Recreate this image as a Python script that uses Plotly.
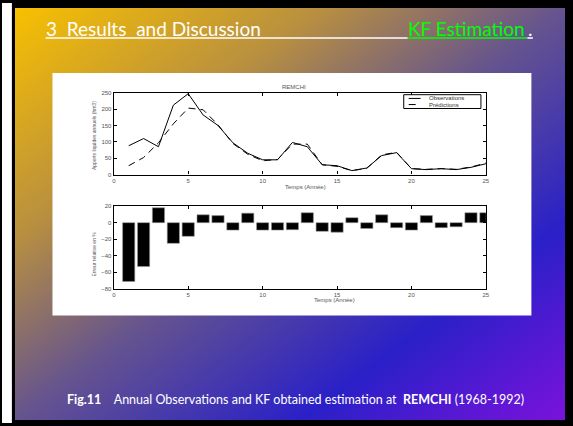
import base64
import plotly.graph_objects as go

W, H = 573, 426

years = list(range(1, 26))
observations = [88, 110, 85, 212, 247, 182, 150, 97, 65, 45, 45, 98, 85, 30, 27, 12, 20, 58, 67, 18, 15, 18, 15, 22, 33]
predictions = [27, 52, 97, 155, 203, 198, 152, 95, 62, 42, 46, 93, 93, 30, 25, 12, 19, 60, 68, 18, 16, 18, 16, 23, 35]
rel_error = [-71, -53, 18, -25, -16.5, 9.5, 8.5, -9, 11.5, -9, -9, -8.5, 12, -10.5, -11.5, 6, -7, 9.5, -6, -9, 8.5, -6, -5, 12, 12]

x_ticks = [0, 5, 10, 15, 20, 25]
y_ticks_top = [0, 50, 100, 150, 200, 250]
y_ticks_bot = [-80, -60, -40, -20, 0, 20]


def px(x):
    return x / W


def py(y):
    return 1 - y / H


fig = go.Figure()
fig.add_trace(go.Scatter(x=years, y=observations, mode="lines", name="Observations",
                         line=dict(color="black", width=1), xaxis="x", yaxis="y", showlegend=False))
fig.add_trace(go.Scatter(x=years, y=predictions, mode="lines", name="Prédictions",
                         line=dict(color="black", width=1, dash="7px,5px"), xaxis="x", yaxis="y", showlegend=False))
fig.add_trace(go.Bar(x=years, y=rel_error, width=0.82, marker=dict(color="black", line=dict(color="#999", width=0.6)),
                     xaxis="x2", yaxis="y2", showlegend=False))

tickfont = dict(family="Liberation Sans", size=6, color="#555")
axis_common = dict(showline=True, linecolor="black", linewidth=1.4, mirror="ticks", ticks="inside",
                   ticklen=3, tickcolor="black", tickwidth=1, showgrid=False, zeroline=False,
                   tickfont=tickfont)

fig.update_layout(
    width=W, height=H, margin=dict(l=0, r=0, t=0, b=0),
    paper_bgcolor="black", plot_bgcolor="white",
    xaxis=dict(domain=[px(113), px(489)], range=[0, 25], tickvals=x_ticks, anchor="y", **axis_common),
    yaxis=dict(domain=[py(174), py(91)], range=[0, 250], tickvals=y_ticks_top, anchor="x", **axis_common),
    xaxis2=dict(domain=[px(113), px(489)], range=[0, 25], tickvals=x_ticks, anchor="y2", **axis_common),
    yaxis2=dict(domain=[py(290), py(206)], range=[-80, 20], tickvals=y_ticks_bot, anchor="x2", **axis_common),
)

svg = (
    '<svg xmlns="http://www.w3.org/2000/svg" width="556" height="418" viewBox="0 0 556 418" preserveAspectRatio="none">'
    '<defs><linearGradient id="g" x1="0" y1="0" x2="1" y2="1">'
    '<stop offset="0" stop-color="#f8c000"/>'
    '<stop offset="0.28" stop-color="#b88f40"/>'
    '<stop offset="0.5" stop-color="#65548e"/>'
    '<stop offset="0.76" stop-color="#2a20c8"/>'
    '<stop offset="1" stop-color="#7a12dc"/>'
    '</linearGradient></defs>'
    '<rect x="0" y="0" width="556" height="418" fill="url(#g)"/></svg>'
)
src = "data:image/svg+xml;base64," + base64.b64encode(svg.encode()).decode()
fig.add_layout_image(dict(source=src, xref="paper", yref="paper", x=px(13), y=py(5),
                          sizex=px(569) - px(13), sizey=py(5) - py(423), sizing="stretch",
                          xanchor="left", yanchor="top", layer="below"))

shapes = []
# white strip at left edge
shapes.append(dict(type="rect", xref="paper", yref="paper", x0=0, x1=px(10), y0=0, y1=1,
                   fillcolor="white", line=dict(width=0), layer="below"))
# white panel
shapes.append(dict(type="rect", xref="paper", yref="paper", x0=px(51), x1=px(535), y0=py(317), y1=py(71),
                   fillcolor="white", line=dict(width=0), layer="below"))
# header underlines
shapes.append(dict(type="line", xref="paper", yref="paper", x0=px(44), x1=px(410), y0=py(35.5), y1=py(35.5),
                   line=dict(color="white", width=1.5)))
shapes.append(dict(type="line", xref="paper", yref="paper", x0=px(410), x1=px(531), y0=py(35.5), y1=py(35.5),
                   line=dict(color="#00ff00", width=1.5)))
shapes.append(dict(type="line", xref="paper", yref="paper", x0=px(531), x1=px(536.5), y0=py(35.5), y1=py(35.5),
                   line=dict(color="white", width=1.5)))
# legend box
shapes.append(dict(type="rect", xref="paper", yref="paper", x0=px(406), x1=px(484), y0=py(107), y1=py(93),
                   fillcolor="white", line=dict(color="black", width=1)))
shapes.append(dict(type="line", xref="paper", yref="paper", x0=px(411), x1=px(423), y0=py(96.8), y1=py(96.8),
                   line=dict(color="black", width=1)))
shapes.append(dict(type="line", xref="paper", yref="paper", x0=px(411), x1=px(423), y0=py(103), y1=py(103),
                   line=dict(color="black", width=1, dash="7px,5px")))
fig.update_layout(shapes=shapes)

small = dict(family="Liberation Sans", size=6, color="#555")
ann = [
    dict(text="REMCHI", x=px(295), y=py(85), font=small),
    dict(text="Temps (Année)", x=px(307), y=py(187), font=small),
    dict(text="Temps (Année)", x=px(336), y=py(301), font=small),
    dict(text="Apports liquides annuels (hm3)", x=px(93), y=py(135), textangle=-90,
         font=dict(family="Liberation Sans", size=5, color="#555")),
    dict(text="Erreur relative en %", x=px(93), y=py(255), textangle=-90,
         font=dict(family="Liberation Sans", size=5, color="#555")),
    dict(text="Observations", x=px(430), y=py(96.8), xanchor="left",
         font=dict(family="Liberation Sans", size=6, color="#333")),
    dict(text="Prédictions", x=px(430), y=py(103), xanchor="left",
         font=dict(family="Liberation Sans", size=6, color="#333")),
    dict(text="3\u00a0\u00a0Results\u00a0\u00a0and Discussion", x=px(42), y=py(26), xanchor="left",
         font=dict(family="Lato", size=19, color="white")),
    dict(text="KF Estimation", x=px(408), y=py(26), xanchor="left",
         font=dict(family="Lato", size=19, color="#00ff00")),
    dict(text=".", x=px(530), y=py(26), xanchor="left",
         font=dict(family="Lato", size=19, color="white")),
    dict(text="<b>Fig.11</b>\u00a0\u00a0\u00a0\u00a0Annual Observations and KF obtained estimation at \u00a0<b>REMCHI</b> (1968-1992)",
         x=px(297), y=py(402), font=dict(family="Lato", size=12.5, color="white")),
]
for a in ann:
    a.setdefault("xref", "paper")
    a.setdefault("yref", "paper")
    a.setdefault("showarrow", False)
    a.setdefault("xanchor", "center")
    a.setdefault("yanchor", "middle")
fig.update_layout(annotations=ann)

fig.write_html("out.html", config={"displayModeBar": False},
               post_script="document.body.style.margin='0px';")
